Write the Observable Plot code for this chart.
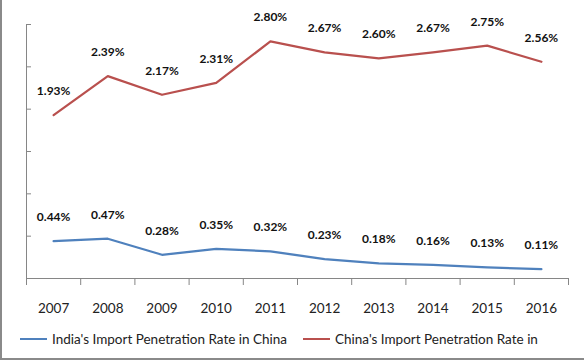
<!DOCTYPE html>
<html>
<head>
<meta charset="utf-8">
<script src="https://cdn.jsdelivr.net/npm/d3@7"></script>
<script src="https://cdn.jsdelivr.net/npm/@observablehq/plot@0.6"></script>
<style>
  html, body { margin: 0; padding: 0; background: #fff; }
  #wrap { position: relative; width: 584px; height: 360px; overflow: hidden; font-family: Lato, "Open Sans", sans-serif; }
  #wrap .bl { position: absolute; left: 0; top: 0; width: 2px; height: 360px; background: #8a8a8a; }
  #wrap .bb { position: absolute; left: 0; top: 358px; width: 584px; height: 2px; background: #8a8a8a; }
  #legend { position: absolute; left: 0; top: 322px; width: 584px; height: 36px; font-size: 13.5px; color: #222; }
  .item { position: absolute; top: 9px; display: flex; align-items: center; white-space: nowrap; }
  .sw { width: 27px; height: 2px; margin-right: 5px; }
</style>
</head>
<body>
<div id="wrap">
  <div id="chart"></div>
  <div id="legend"></div>
  <div class="bl"></div>
  <div class="bb"></div>
</div>
<script>
const years = [2007, 2008, 2009, 2010, 2011, 2012, 2013, 2014, 2015, 2016];
const india = [0.44, 0.47, 0.28, 0.35, 0.32, 0.23, 0.18, 0.16, 0.13, 0.11];
const china = [1.93, 2.39, 2.17, 2.31, 2.80, 2.67, 2.60, 2.67, 2.75, 2.56];
const seriesNames = ["India's Import Penetration Rate in China", "China's Import Penetration Rate in"];
const colors = ["#4F81BD", "#B9504E"];
const yTicks = [0.5, 1, 1.5, 2, 2.5, 3];

const data = [
  ...years.map((y, i) => ({year: y, value: india[i], series: seriesNames[0]})),
  ...years.map((y, i) => ({year: y, value: china[i], series: seriesNames[1]}))
];
const boundaries = d3.range(years[0] - 0.5, years[years.length - 1] + 1, 1);

const chart = Plot.plot({
  width: 584,
  height: 322,
  marginLeft: 26,
  marginRight: 16,
  marginTop: 24,
  marginBottom: 44,
  style: {fontFamily: "Lato, 'Open Sans', sans-serif", background: "transparent"},
  x: {type: "linear", domain: [years[0] - 0.5, years[years.length - 1] + 0.5], axis: null},
  y: {domain: [0, 3], axis: null},
  color: {domain: seriesNames, range: colors},
  marks: [
    Plot.ruleY([0], {stroke: "#868686", strokeWidth: 1}),
    Plot.ruleX([years[0] - 0.5], {y1: 0, y2: 3, stroke: "#868686", strokeWidth: 1}),
    Plot.axisY({ticks: yTicks, tickSize: 5, dx: 5, tickFormat: () => "", label: null, stroke: "#868686"}),
    Plot.axisX({ticks: boundaries, tickSize: 7, tickFormat: () => "", label: null, stroke: "#868686"}),
    Plot.text(years, {x: d => d, y: () => 0, dy: 30, text: d => String(d), fontSize: 13.5, fill: "#222"}),
    Plot.line(data, {x: "year", y: "value", z: "series", stroke: "series", strokeWidth: 2.25}),
    Plot.text(data, {x: "year", y: "value", dy: -24, text: d => d.value.toFixed(2) + "%", fontSize: 12, fontWeight: "bold", fill: "#111"})
  ]
});
document.getElementById("chart").appendChild(chart);

const legend = document.getElementById("legend");
const lefts = [20, 303];
seriesNames.forEach((name, i) => {
  const it = document.createElement("div");
  it.className = "item";
  it.style.left = lefts[i] + "px";
  it.innerHTML = `<span class="sw" style="background:${colors[i]}"></span><span>${name}</span>`;
  legend.appendChild(it);
});
</script>
</body>
</html>
